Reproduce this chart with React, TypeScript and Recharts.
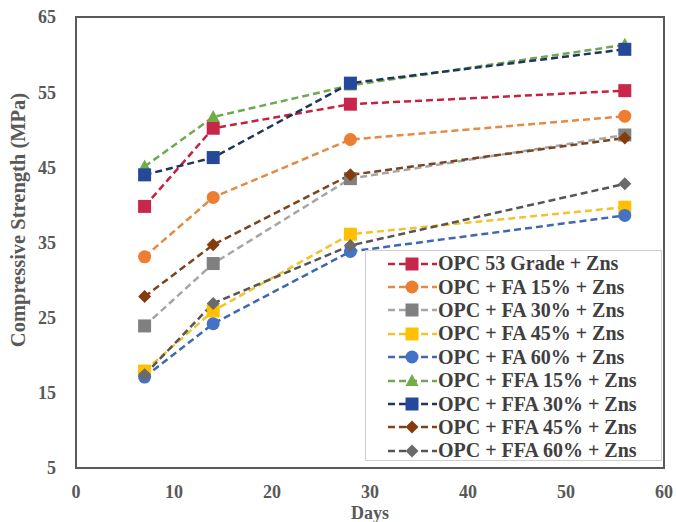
import React from 'react';
import { LineChart, Line, XAxis, YAxis, ReferenceArea, Legend } from 'recharts';

// Curing age (days)
const days = [7, 14, 28, 56];

// Compressive strength (MPa) per mix
const opc53Grade = [39.8, 50.2, 53.4, 55.2];
const fa15 = [33.1, 41.0, 48.7, 51.8];
const fa30 = [23.9, 32.2, 43.5, 49.3];
const fa45 = [17.9, 25.9, 36.1, 39.7];
const fa60 = [17.1, 24.2, 33.8, 38.6];
const ffa15 = [45.1, 51.7, 55.9, 61.3];
const ffa30 = [44.0, 46.3, 56.2, 60.7];
const ffa45 = [27.8, 34.7, 44.0, 48.9];
const ffa60 = [17.4, 26.9, 34.6, 42.8];

const seriesNames = [
  'OPC 53 Grade + Zns',
  'OPC + FA 15% + Zns',
  'OPC + FA 30% + Zns',
  'OPC + FA 45% + Zns',
  'OPC + FA 60% + Zns',
  'OPC + FFA 15% + Zns',
  'OPC + FFA 30% + Zns',
  'OPC + FFA 45% + Zns',
  'OPC + FFA 60% + Zns',
];

const xTicks = [0, 10, 20, 30, 40, 50, 60];
const yTicks = [5, 15, 25, 35, 45, 55, 65];

type Shape = 'square' | 'circle' | 'triangle' | 'diamond';

interface SeriesStyle {
  values: number[];
  line: string;
  fill: string;
  shape: Shape;
}

const seriesStyles: SeriesStyle[] = [
  { values: opc53Grade, line: '#C4233F', fill: '#C8264A', shape: 'square' },
  { values: fa15, line: '#E58A45', fill: '#ED7D31', shape: 'circle' },
  { values: fa30, line: '#A6A6A6', fill: '#808080', shape: 'square' },
  { values: fa45, line: '#F2C230', fill: '#FFC000', shape: 'square' },
  { values: fa60, line: '#3F69AF', fill: '#4472C4', shape: 'circle' },
  { values: ffa15, line: '#6FA850', fill: '#70AD47', shape: 'triangle' },
  { values: ffa30, line: '#1F3559', fill: '#25499A', shape: 'square' },
  { values: ffa45, line: '#7A4420', fill: '#843C0C', shape: 'diamond' },
  { values: ffa60, line: '#555555', fill: '#6A6A6A', shape: 'diamond' },
];

const data = days.map((d, i) => {
  const row: Record<string, number> = { day: d };
  seriesStyles.forEach((s, k) => {
    row[`s${k}`] = s.values[i];
  });
  return row;
});

const FONT = '"Liberation Serif", "Times New Roman", serif';

const Marker = ({ cx, cy, shape, fill }: { cx: number; cy: number; shape: Shape; fill: string }) => {
  if (shape === 'circle') return <circle cx={cx} cy={cy} r={6.5} fill={fill} />;
  if (shape === 'triangle')
    return <polygon points={`${cx},${cy - 7} ${cx + 6.5},${cy + 5} ${cx - 6.5},${cy + 5}`} fill={fill} />;
  if (shape === 'diamond')
    return <polygon points={`${cx},${cy - 6.5} ${cx + 6.5},${cy} ${cx},${cy + 6.5} ${cx - 6.5},${cy}`} fill={fill} />;
  return <rect x={cx - 6.5} y={cy - 6.5} width={13} height={13} fill={fill} />;
};

const LegendBox = () => (
  <div
    style={{
      width: 297,
      height: 211,
      boxSizing: 'border-box',
      border: '1px solid #cfcfcf',
      background: '#fff',
      paddingTop: 1,
    }}
  >
    {seriesStyles.map((s, i) => (
      <div key={i} style={{ display: 'flex', alignItems: 'center', height: 23.4 }}>
        <svg width={72} height={20} style={{ flex: 'none' }}>
          <line x1={22} y1={10} x2={71} y2={10} stroke={s.line} strokeWidth={2.5} strokeDasharray="7 4" />
          <Marker cx={46} cy={10} shape={s.shape} fill={s.fill} />
        </svg>
        <span style={{ fontFamily: FONT, fontWeight: 'bold', fontSize: 20, color: '#3f3f3f', whiteSpace: 'nowrap' }}>
          {seriesNames[i]}
        </span>
      </div>
    ))}
  </div>
);

export default function App() {
  const tickStyle = { fill: '#595959', fontSize: 18, fontWeight: 'bold', fontFamily: FONT };
  return (
    <div style={{ position: 'absolute', left: 0, top: 0, width: 676, height: 522, background: '#fff' }}>
      <LineChart width={676} height={522} data={data} margin={{ top: 17, right: 12, bottom: 0, left: 0 }}>
        <XAxis
          dataKey="day"
          type="number"
          domain={[0, 60]}
          ticks={xTicks}
          height={54}
          tickSize={0}
          tickMargin={17}
          axisLine={false}
          tick={tickStyle}
          label={{
            value: 'Days',
            position: 'insideBottom',
            offset: 3,
            style: { fill: '#595959', fontSize: 18, fontWeight: 'bold', fontFamily: FONT },
          }}
        />
        <YAxis
          type="number"
          domain={[5, 65]}
          ticks={yTicks}
          width={76}
          tickSize={0}
          tickMargin={20}
          axisLine={false}
          tick={tickStyle}
          label={{
            content: () => (
              <text
                x={18}
                y={220}
                transform="rotate(-90 18 220)"
                textAnchor="middle"
                dominantBaseline="central"
                fill="#595959"
                fontSize={20.5}
                fontWeight="bold"
                fontFamily={FONT}
              >
                Compressive Strength (MPa)
              </text>
            ),
          }}
        />
        <ReferenceArea x1={0} x2={60} y1={5} y2={65} fill="none" stroke="#5a5a5a" strokeWidth={2} />
        {seriesStyles.map((s, k) => (
          <Line
            key={k}
            dataKey={`s${k}`}
            name={seriesNames[k]}
            stroke={s.line}
            strokeWidth={2.5}
            strokeDasharray="7 4"
            isAnimationActive={false}
            dot={(p: any) => <Marker key={`d${k}-${p.index}`} cx={p.cx} cy={p.cy} shape={s.shape} fill={s.fill} />}
            activeDot={false}
          />
        ))}
        <Legend
          layout="horizontal"
          verticalAlign="middle"
          align="center"
          content={() => <LegendBox />}
          wrapperStyle={{ position: 'absolute', left: 365, top: 250, width: 297, height: 211 }}
        />
      </LineChart>
    </div>
  );
}
